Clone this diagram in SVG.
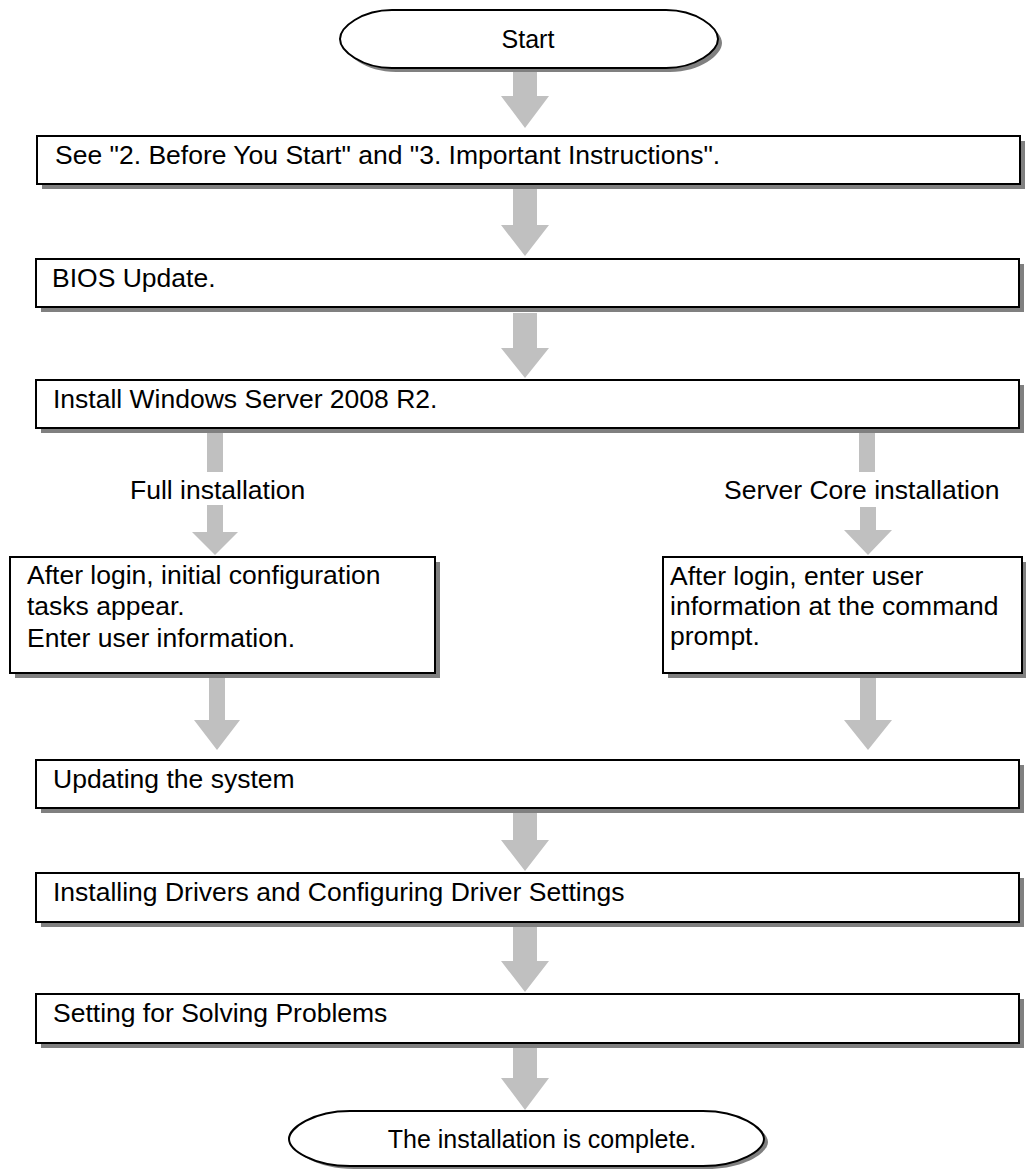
<svg xmlns="http://www.w3.org/2000/svg" width="1026" height="1169" viewBox="0 0 1026 1169">
<style>
.shadow{fill:#808080;}
.box{fill:#fff;stroke:#000;stroke-width:2;}
.arrow{fill:#c0c0c0;}
text{font-family:"Liberation Sans",Arial,sans-serif;font-size:26.5px;fill:#000;}
.mid{text-anchor:middle;}
.term{font-size:25px;}
</style>
<rect width="1026" height="1169" fill="#fff"/>
<g id="connectors">
  <polygon class="arrow" points="513,70 537,70 537,96 549,96 525,128 501,96 513,96"/>
  <polygon class="arrow" points="513,189 537,189 537,225 549,225 525,256 501,225 513,225"/>
  <polygon class="arrow" points="513,313 537,313 537,348 549,348 525,378 501,348 513,348"/>
  <rect class="arrow" x="207" y="433" width="16" height="39"/>
  <polygon class="arrow" points="207,505 223,505 223,532 238,532 215,555 192,532 207,532"/>
  <rect class="arrow" x="859" y="433" width="16" height="39"/>
  <polygon class="arrow" points="860,507 876,507 876,530 892,530 868,555 844,530 860,530"/>
  <polygon class="arrow" points="209,678 225,678 225,720 240,720 217,750 194,720 209,720"/>
  <polygon class="arrow" points="860,678 876,678 876,720 892,720 868,750 844,720 860,720"/>
  <polygon class="arrow" points="513,813 537,813 537,840 549,840 525,871 501,840 513,840"/>
  <polygon class="arrow" points="513,927 537,927 537,961 549,961 525,992 501,961 513,961"/>
  <polygon class="arrow" points="513,1048 537,1048 537,1078 549,1078 525,1110 501,1078 513,1078"/>
</g>
<g id="start">
  <path class="shadow" transform="translate(4,4)" d="M392,10 L666,10 C696,10 718,27 718,39 C718,51 696,68 666,68 L392,68 C362,68 340,51 340,39 C340,27 362,10 392,10 Z"/>
  <path class="box" d="M392,10 L666,10 C696,10 718,27 718,39 C718,51 696,68 666,68 L392,68 C362,68 340,51 340,39 C340,27 362,10 392,10 Z"/>
  <text class="mid term" x="528" y="48">Start</text>
</g>
<g id="before-start">
  <rect class="shadow" x="42" y="141" width="983" height="48"/>
  <rect class="box" x="37" y="136" width="983" height="48"/>
  <text x="55" y="164">See "2. Before You Start" and "3. Important Instructions".</text>
</g>
<g id="bios-update">
  <rect class="shadow" x="41" y="264" width="983" height="48"/>
  <rect class="box" x="36" y="259" width="983" height="48"/>
  <text x="52" y="287">BIOS Update.</text>
</g>
<g id="install-windows">
  <rect class="shadow" x="41" y="385" width="983" height="48"/>
  <rect class="box" x="36" y="380" width="983" height="48"/>
  <text x="53" y="408">Install Windows Server 2008 R2.</text>
</g>
<g id="label-full">
  <text x="130" y="499">Full installation</text>
</g>
<g id="label-core">
  <text x="724" y="499">Server Core installation</text>
</g>
<g id="full-config">
  <rect class="shadow" x="15" y="562" width="425" height="116"/>
  <rect class="box" x="10" y="557" width="425" height="116"/>
  <text x="27" y="584">After login, initial configuration</text>
  <text x="27" y="615">tasks appear.</text>
  <text x="27" y="647">Enter user information.</text>
</g>
<g id="core-config">
  <rect class="shadow" x="668" y="562" width="359" height="116"/>
  <rect class="box" x="663" y="557" width="359" height="116"/>
  <text x="670" y="585">After login, enter user</text>
  <text x="670" y="615">information at the command</text>
  <text x="670" y="645">prompt.</text>
</g>
<g id="updating">
  <rect class="shadow" x="41" y="765" width="983" height="48"/>
  <rect class="box" x="36" y="760" width="983" height="48"/>
  <text x="53" y="788">Updating the system</text>
</g>
<g id="drivers">
  <rect class="shadow" x="41" y="878" width="983" height="49"/>
  <rect class="box" x="36" y="873" width="983" height="49"/>
  <text x="53" y="901">Installing Drivers and Configuring Driver Settings</text>
</g>
<g id="solving">
  <rect class="shadow" x="41" y="999" width="983" height="49"/>
  <rect class="box" x="36" y="994" width="983" height="49"/>
  <text x="53" y="1022">Setting for Solving Problems</text>
</g>
<g id="end">
  <path class="shadow" transform="translate(4,3)" d="M350,1111 L703,1111 C740,1111 764,1128 764,1139 C764,1150 740,1166 703,1166 L350,1166 C313,1166 289,1150 289,1139 C289,1128 313,1111 350,1111 Z"/>
  <path class="box" d="M350,1111 L703,1111 C740,1111 764,1128 764,1139 C764,1150 740,1166 703,1166 L350,1166 C313,1166 289,1150 289,1139 C289,1128 313,1111 350,1111 Z"/>
  <text class="mid term" x="542" y="1148">The installation is complete.</text>
</g>
</svg>
